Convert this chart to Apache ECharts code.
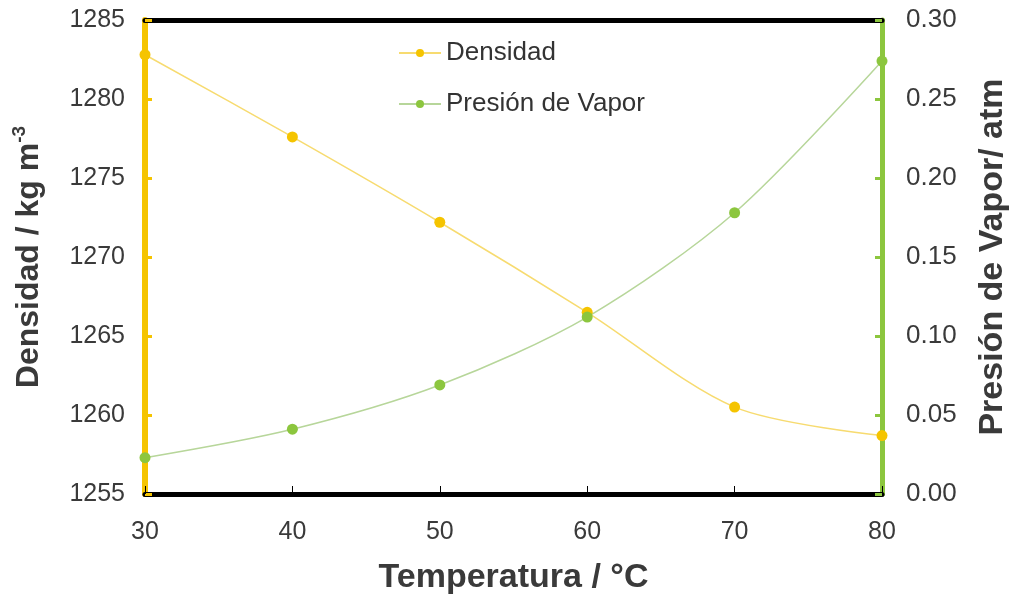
<!DOCTYPE html>
<html>
<head>
<meta charset="utf-8">
<title>Densidad y Presión de Vapor</title>
<script src="https://cdn.jsdelivr.net/npm/echarts@6/dist/echarts.min.js"></script>
<style>
    html, body { margin: 0; padding: 0; background: #fff; }
    #chart { width: 1010px; height: 594px; }
</style>
</head>
<body>
<div id="chart"></div>
<script>
// temperaturas (°C)
const temperaturas = [30, 40, 50, 60, 70, 80];
// densidad (kg m-3)
const densidad = [1282.8, 1277.6, 1272.2, 1266.5, 1260.5, 1258.7];
// presión de vapor (atm)
const presionVapor = [0.023, 0.041, 0.069, 0.112, 0.178, 0.274];

const amarillo = '#F5C400';
const verde = '#8CC63E';
const labelColor = '#3a3a3a';
const fontFamily = 'Liberation Sans, Arial, sans-serif';

const chart = echarts.init(document.getElementById('chart'));

const option = {
    animation: false,
    textStyle: { fontFamily: fontFamily },
    grid: { left: 145, right: 128, top: 20, bottom: 100, outerBoundsMode: 'none', containLabel: false },
    legend: {
        orient: 'vertical',
        left: 393,
        top: 35,
        itemGap: 25,
        itemWidth: 42,
        itemHeight: 10,
        textStyle: { fontSize: 26, color: '#333', fontFamily: fontFamily },
        data: ['Densidad', 'Presión de Vapor']
    },
    xAxis: [
        {
            type: 'value',
            min: 30,
            max: 80,
            interval: 10,
            name: 'Temperatura / °C',
            nameLocation: 'middle',
            nameGap: 67,
            nameTextStyle: { fontSize: 34, fontWeight: 'bold', color: labelColor },
            axisLine: { lineStyle: { color: '#000', width: 5 } },
            axisTick: { inside: true, length: 8, lineStyle: { color: '#000', width: 1 } },
            axisLabel: { fontSize: 25, color: labelColor, margin: 26 },
            splitLine: { show: false }
        },
        {
            type: 'value',
            position: 'top',
            min: 30,
            max: 80,
            interval: 10,
            axisLine: { show: true, lineStyle: { color: '#000', width: 5 } },
            axisTick: { show: false },
            axisLabel: { show: false },
            splitLine: { show: false }
        }
    ],
    yAxis: [
        {
            type: 'value',
            min: 1255,
            max: 1285,
            interval: 5,
            position: 'left',
            name: '{a|Densidad / kg m}{b|-3}',
            nameLocation: 'middle',
            nameGap: 96,
            nameTextStyle: {
                rich: {
                    a: { fontSize: 32, fontWeight: 'bold', color: labelColor, fontFamily: fontFamily },
                    b: { fontSize: 19, fontWeight: 'bold', color: labelColor, fontFamily: fontFamily, verticalAlign: 'top', padding: [0, 0, 20, 0] }
                }
            },
            axisLine: { show: true, lineStyle: { color: amarillo, width: 6 } },
            axisTick: { show: true, inside: true, length: 7, lineStyle: { color: amarillo, width: 3 } },
            axisLabel: { fontSize: 25, color: labelColor, margin: 20, formatter: v => String(v) },
            splitLine: { show: false }
        },
        {
            type: 'value',
            min: 0,
            max: 0.30,
            interval: 0.05,
            position: 'right',
            name: 'Presión de Vapor/ atm',
            nameLocation: 'middle',
            nameGap: 94,
            nameRotate: 90,
            nameTextStyle: { fontSize: 34, fontWeight: 'bold', color: labelColor },
            axisLine: { show: true, lineStyle: { color: verde, width: 5 } },
            axisTick: { show: true, inside: true, length: 7, lineStyle: { color: verde, width: 3 } },
            axisLabel: {
                fontSize: 26, color: labelColor, margin: 24,
                formatter: v => v.toFixed(2)
            },
            splitLine: { show: false }
        }
    ],
    series: [
        {
            name: 'Densidad',
            type: 'line',
            smooth: 0.3,
            xAxisIndex: 0,
            yAxisIndex: 0,
            data: temperaturas.map((t, i) => [t, densidad[i]]),
            symbol: 'circle',
            symbolSize: 11,
            itemStyle: { color: amarillo },
            lineStyle: { color: '#F7DB70', width: 1.5 }
        },
        {
            name: 'Presión de Vapor',
            type: 'line',
            smooth: 0.3,
            xAxisIndex: 0,
            yAxisIndex: 1,
            data: temperaturas.map((t, i) => [t, presionVapor[i]]),
            symbol: 'circle',
            symbolSize: 11,
            itemStyle: { color: verde },
            lineStyle: { color: '#B7D69A', width: 1.5 }
        }
    ]
};

chart.setOption(option);
</script>
</body>
</html>
